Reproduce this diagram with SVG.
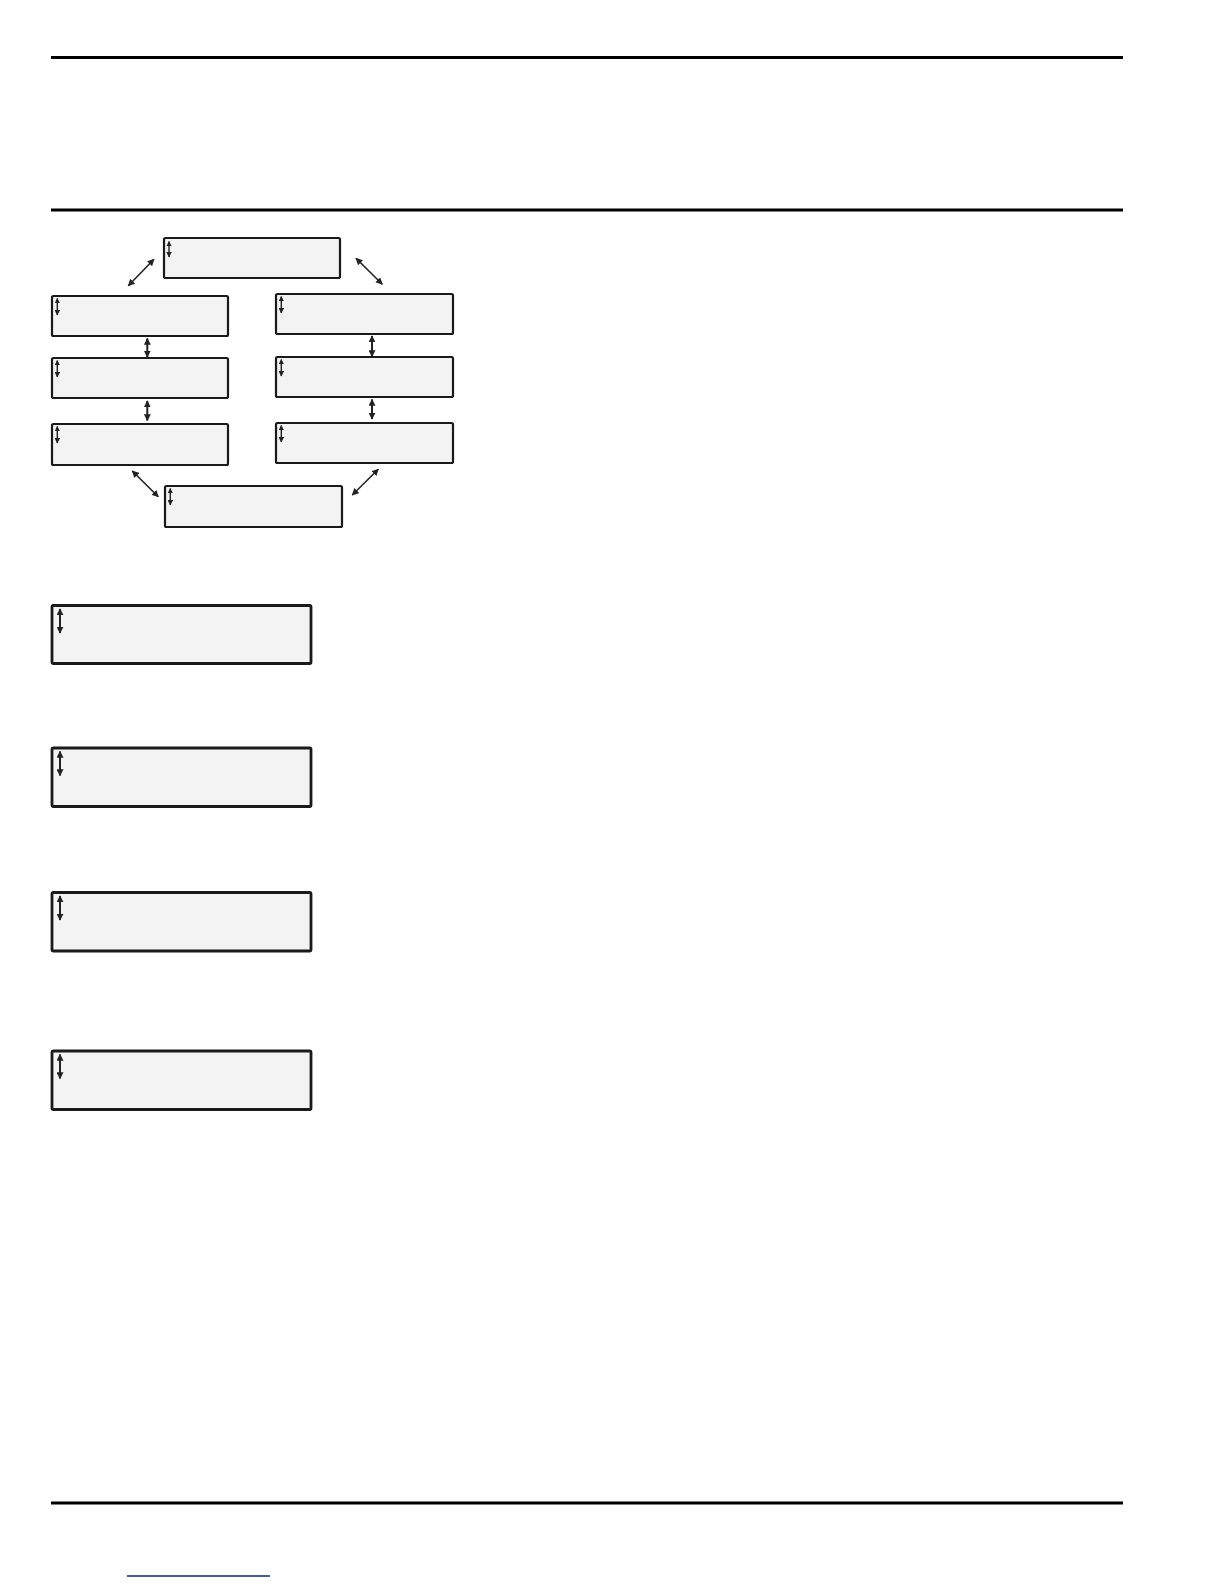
<svg xmlns="http://www.w3.org/2000/svg" width="1224" height="1584" viewBox="0 0 1224 1584">
<defs>
<marker id="ah" viewBox="0 0 10 10" refX="9" refY="5" markerWidth="5.5" markerHeight="5.5" orient="auto-start-reverse" markerUnits="userSpaceOnUse"><path d="M0,0 L10,5 L0,10 z" fill="#222"/></marker>
<marker id="ah2" viewBox="0 0 10 10" refX="9" refY="5" markerWidth="7" markerHeight="7" orient="auto-start-reverse" markerUnits="userSpaceOnUse"><path d="M0,0 L10,5 L0,10 z" fill="#222"/></marker>
</defs>
<style>
.rule{stroke:#000;stroke-width:2.8}
.box{fill:#f3f3f3;stroke:#1a1a1a;stroke-width:2.2;}
.bigbox{fill:#f3f3f3;stroke:#1a1a1a;stroke-width:2.8;}
.conn{stroke:#222;stroke-width:1.6;fill:none;marker-start:url(#ah2);marker-end:url(#ah2)}
.vconn{stroke:#222;stroke-width:2;fill:none;marker-start:url(#ah2);marker-end:url(#ah2)}
.ic{stroke:#222;stroke-width:1.4;fill:none;marker-start:url(#ah);marker-end:url(#ah)}
.icb{stroke:#222;stroke-width:2;fill:none;marker-start:url(#ah2);marker-end:url(#ah2)}
</style>
<rect width="1224" height="1584" fill="#fff"/>
<line class="rule" x1="51" y1="57.5" x2="1123" y2="57.5"/>
<line class="rule" x1="51" y1="210" x2="1123" y2="210"/>
<line class="rule" x1="51" y1="1503" x2="1123" y2="1503"/>
<line x1="127" y1="1576" x2="270" y2="1576" stroke="#1a1a8a" stroke-width="1.6"/>

<g id="connectors">
<line class="conn" x1="128.3" y1="285.7" x2="154" y2="259.3"/>
<line class="conn" x1="356" y1="258.3" x2="382.3" y2="284.3"/>
<line class="conn" x1="132.3" y1="471" x2="158.3" y2="496.7"/>
<line class="conn" x1="352.3" y1="495" x2="378.3" y2="469.3"/>
<line class="vconn" x1="147.3" y1="338.5" x2="147.3" y2="357"/>
<line class="vconn" x1="147.3" y1="401" x2="147.3" y2="420.5"/>
<line class="vconn" x1="372" y1="336" x2="372" y2="356.5"/>
<line class="vconn" x1="372" y1="399.5" x2="372" y2="419"/>
</g>

<g id="n-top"><rect class="box" x="164" y="238" width="176" height="40" rx="1.5"/><line class="ic" x1="169" y1="241.5" x2="169" y2="257"/></g>
<g id="n-l1"><rect class="box" x="52" y="296" width="176" height="40" rx="1.5"/><line class="ic" x1="57.3" y1="298.5" x2="57.3" y2="315"/></g>
<g id="n-l2"><rect class="box" x="52" y="358" width="176" height="40" rx="1.5"/><line class="ic" x1="57.3" y1="360.5" x2="57.3" y2="377"/></g>
<g id="n-l3"><rect class="box" x="52" y="424" width="176" height="41" rx="1.5"/><line class="ic" x1="57.3" y1="426.5" x2="57.3" y2="443"/></g>
<g id="n-r1"><rect class="box" x="276" y="294" width="177" height="40" rx="1.5"/><line class="ic" x1="281.3" y1="296.5" x2="281.3" y2="313"/></g>
<g id="n-r2"><rect class="box" x="276" y="357" width="177" height="40" rx="1.5"/><line class="ic" x1="281.3" y1="359.5" x2="281.3" y2="376"/></g>
<g id="n-r3"><rect class="box" x="276" y="423" width="177" height="40" rx="1.5"/><line class="ic" x1="281.3" y1="425.5" x2="281.3" y2="442"/></g>
<g id="n-bottom"><rect class="box" x="165" y="486" width="177" height="41" rx="1.5"/><line class="ic" x1="170.3" y1="488.5" x2="170.3" y2="505"/></g>

<g id="n-big1"><rect class="bigbox" x="52" y="605.5" width="259" height="58" rx="1.5"/><line class="icb" x1="60" y1="609" x2="60" y2="633"/></g>
<g id="n-big2"><rect class="bigbox" x="52" y="748" width="259" height="58.5" rx="1.5"/><line class="icb" x1="60" y1="751.5" x2="60" y2="775.5"/></g>
<g id="n-big3"><rect class="bigbox" x="52" y="892.5" width="259" height="58.5" rx="1.5"/><line class="icb" x1="60" y1="896" x2="60" y2="920"/></g>
<g id="n-big4"><rect class="bigbox" x="52" y="1051" width="259" height="58.5" rx="1.5"/><line class="icb" x1="60" y1="1054.5" x2="60" y2="1078.5"/></g>
</svg>
